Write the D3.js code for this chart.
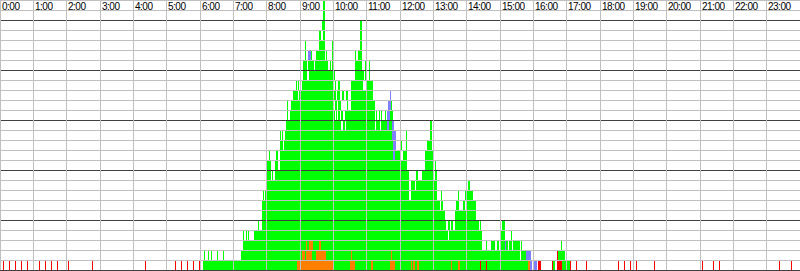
<!DOCTYPE html>
<html>
<head>
<meta charset="utf-8">
<script src="https://cdnjs.cloudflare.com/ajax/libs/d3/7.8.5/d3.min.js"></script>
<style>
  body { margin: 0; background: #fff; }
  svg { display: block; }
  .hour { font-family: Arial, "Liberation Sans", sans-serif; font-size: 10px; letter-spacing: -0.5px; fill: #000; }
</style>
</head>
<body>
<div id="chart"></div>
<script>
// hours shown in the header
var hours = d3.range(0, 24);
var hourLabels = hours.map(function(h){ return h + ":00"; });

// segments: [lane, start minute, end minute]
var greenSegs = [
  [0,367,535],[0,600,630],[0,639,668],[0,672,703],[0,711,740],[0,742,744],[0,748,751],[0,755,812],[0,815,826],[0,829,864],[0,866,875],[0,877,951],[0,997,1000],[0,1012,1019],[0,1021,1026],
  [1,369,370],[1,375,376],[1,380,381],[1,391,392],[1,402,403],[1,434,545],[1,550,551],[1,563,569],[1,587,633],[1,635,705],[1,707,936],[1,939,947],[1,1006,1017],
  [2,439,551],[2,553,557],[2,564,575],[2,578,869],[2,875,877],[2,884,891],[2,896,899],[2,901,909],[2,912,916],[2,918,923],[2,925,936],[2,939,941],[2,1011,1013],
  [3,439,440],[3,444,445],[3,448,449],[3,459,807],[3,809,869],[3,901,909],[3,920,923],
  [4,466,467],[4,473,804],[4,808,811],[4,813,816],[4,820,863],[4,864,866],[4,905,909],
  [5,473,802],[5,820,858],
  [6,473,789],[6,790,792],[6,795,799],[6,822,828],[6,834,837],[6,839,857],
  [7,474,475],[7,477,738],[7,740,788],[7,795,797],[7,825,828],[7,837,839],[7,840,852],
  [8,480,738],[8,741,744],[8,745,748],[8,750,781],[8,782,788],[8,840,842],[8,843,846],
  [9,481,489],[9,491,493],[9,495,737],[9,750,754],[9,761,781],[9,784,788],
  [10,480,489],[10,495,502],[10,504,733],[10,765,780],[10,784,786],
  [11,485,486],[11,498,502],[11,504,709],[11,712,720],[11,726,733],[11,765,767],[11,768,780],
  [12,504,510],[12,512,709],[12,721,725],[12,731,733],[12,770,778],
  [13,504,505],[13,508,509],[13,514,707],[13,731,733],[13,774,778],
  [14,515,615],[14,619,621],[14,623,675],[14,677,684],[14,686,698],[14,701,707],[14,775,778],
  [15,517,518],[15,522,600],[15,601,603],[15,605,608],[15,610,613],[15,615,618],[15,621,675],[15,677,679],[15,683,685],[15,686,688],[15,693,696],[15,703,708],
  [16,518,519],[16,524,537],[16,538,600],[16,603,607],[16,609,614],[16,625,628],[16,633,675],[16,705,707],
  [17,529,537],[17,539,606],[17,608,612],[17,616,620],[17,624,628],[17,633,672],
  [18,533,534],[18,538,539],[18,545,601],[18,603,606],[18,610,612],[18,633,654],[18,660,672],
  [19,547,554],[19,557,600],[19,602,604],[19,639,656],[19,658,660],[19,665,667],
  [20,547,553],[20,556,566],[20,568,592],[20,594,596],[20,598,600],[20,639,652],[20,658,660],[20,665,667],
  [21,550,552],[21,560,563],[21,569,586],[21,587,589],[21,598,600],[21,640,642],[21,646,652],
  [22,550,552],[22,575,586],[22,598,600],[22,648,652],
  [23,575,578],[23,582,585],[23,648,652],
  [24,581,585],[24,648,652],
  [25,583,585],
  [26,583,585]
];

var orangeSegs = [
  [0,535,600],[0,630,639],[0,668,672],[0,703,711],[0,740,742],[0,744,748],[0,751,755],[0,812,815],[0,826,829],[0,951,954],
  [1,545,550],[1,551,563],[1,569,587],[1,633,635],[1,705,707],
  [2,551,553],[2,557,564],[2,575,578]
];

var blueSegs = [
  [0,954,959],[0,960,967],
  [1,948,957],[1,960,962],
  [2,909,912],
  [11,709,712],[12,709,713],[13,707,714],[14,698,701],[14,707,710],
  [15,698,703],[16,699,704],[17,703,705],[21,556,560]
];

var redSegs = [
  [0,6,6],[0,17,17],[0,28,28],[0,38,38],[0,49,49],[0,71,71],[0,82,82],[0,92,92],[0,103,103],
  [0,123,123],[0,166,166],[0,262,262],[0,316,316],[0,326,326],[0,337,337],[0,348,348],[0,359,359],
  [0,865,865],[0,876,876],[0,970,974],[0,995,995],[0,1004,1012],[0,1027,1027],[0,1038,1038],[0,1056,1056],
  [0,1114,1114],[0,1124,1124],[0,1135,1135],[0,1146,1146],[0,1178,1178],
  [0,1264,1264],[0,1284,1284],[0,1295,1295],[0,1403,1403],[0,1424,1424],
  [1,1004,1006]
];

var width = 800, height = 271, lanes = 27;

var svg = d3.select("#chart").append("svg")
    .attr("width", width)
    .attr("height", height)
    .attr("shape-rendering", "crispEdges");

var x = d3.scaleLinear().domain([0, 1440]).range([0, 800]);
var y = d3.scaleLinear().domain([0, lanes]).range([270, 0]);

function drawSegs(data, color)
{
  svg.append("g").selectAll("rect")
    .data(data)
    .enter().append("rect")
      .attr("x", function(d){ return Math.floor(x(d[1])); })
      .attr("y", function(d){ return y(d[0] + 1); })
      .attr("width", function(d){ return Math.max(1, Math.floor(x(d[2])) - Math.floor(x(d[1]))); })
      .attr("height", function(d){ return y(d[0]) - y(d[0] + 1); })
      .style("fill", color);
}

drawSegs(greenSegs, "#00ff00");
drawSegs(orangeSegs, "#ff8000");
drawSegs(blueSegs, "#7f7fff");
drawSegs(redSegs, "#ff0000");

// horizontal grid, darker every 5 lanes
var grid = svg.append("g");
grid.selectAll("line.h")
  .data(d3.range(0, lanes + 1))
  .enter().append("line")
    .attr("class", "h")
    .attr("x1", 0).attr("x2", width)
    .attr("y1", function(k){ return y(k) + 0.5; })
    .attr("y2", function(k){ return y(k) + 0.5; })
    .style("stroke", function(k){ return k % 5 == 0 ? "#404040" : "#c0c0c0"; });

// vertical hour lines
grid.selectAll("line.v")
  .data(hours)
  .enter().append("line")
    .attr("class", "v")
    .attr("x1", function(h){ return Math.floor(x(h * 60)) + 0.5; })
    .attr("x2", function(h){ return Math.floor(x(h * 60)) + 0.5; })
    .attr("y1", 0).attr("y2", 270)
    .style("stroke", "#c0c0c0");

svg.append("g").selectAll("text")
  .data(hours)
  .enter().append("text")
    .attr("class", "hour")
    .attr("x", function(h){ return Math.floor(x(h * 60)) + 2; })
    .attr("y", 9.5)
    .text(function(h, i){ return hourLabels[i]; });
</script>
</body>
</html>
